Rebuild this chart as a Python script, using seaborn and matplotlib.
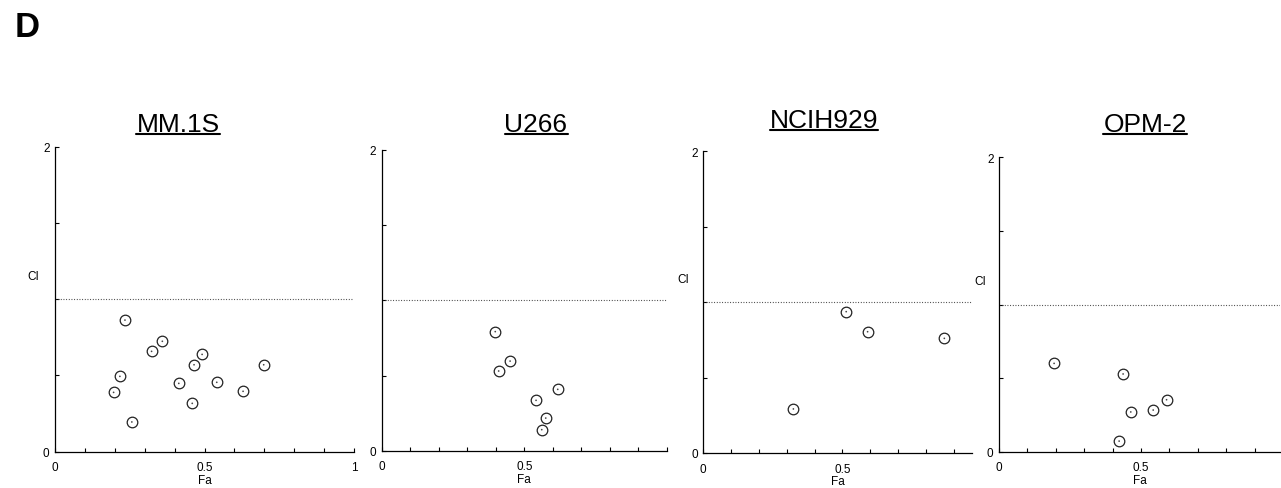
import numpy as np
import pandas as pd
import matplotlib
matplotlib.use("Agg")
import matplotlib.pyplot as plt
from matplotlib.lines import Line2D
import seaborn as sns

# Fa / CI values
lines = ["MM.1S", "U266", "NCIH929", "OPM-2"]

mm1s_fa = [0.234, 0.359, 0.323, 0.492, 0.465, 0.698, 0.217, 0.414, 0.541, 0.196, 0.629, 0.459, 0.257]
mm1s_ci = [0.863, 0.724, 0.658, 0.638, 0.570, 0.570, 0.494, 0.448, 0.455, 0.389, 0.396, 0.317, 0.195]

u266_fa = [0.398, 0.450, 0.410, 0.617, 0.541, 0.575, 0.561]
u266_ci = [0.792, 0.596, 0.530, 0.408, 0.335, 0.217, 0.140]

ncih929_fa = [0.514, 0.591, 0.867, 0.324]
ncih929_ci = [0.937, 0.804, 0.760, 0.292]

opm2_fa = [0.194, 0.437, 0.590, 0.543, 0.464, 0.423]
opm2_ci = [0.600, 0.528, 0.353, 0.283, 0.270, 0.072]

fa_sets = [mm1s_fa, u266_fa, ncih929_fa, opm2_fa]
ci_sets = [mm1s_ci, u266_ci, ncih929_ci, opm2_ci]

x_ticklabels = [["0", "0.5", "1"], ["0", "0.5"], ["0", "0.5"], ["0", "0.5"]]
show_ci = [True, False, True, True]

sns.set_style("ticks")
plt.rcParams["font.family"] = ["Liberation Sans", "DejaVu Sans"]
plt.rcParams["text.color"] = "black"
plt.rcParams["axes.labelcolor"] = "black"
narrow = ["Liberation Sans Narrow", "Liberation Sans", "DejaVu Sans"]

W, H = 1281, 489
fig = plt.figure(figsize=(W / 100, H / 100), dpi=100)

# axes boxes in pixels: left, y0, y2, px per unit, xmax
boxes = [
    (55, 452.7, 147.7, 299, 1.0),
    (381.7, 451.7, 151.0, 285.3, 1.0),
    (703.3, 454.0, 152.3, 278.0, 0.965),
    (999, 452.7, 158.3, 284.0, 0.99),
]
ci_pos = [(-0.074, 0.556), None, (-0.075, 0.557), (-0.067, 0.559)]
# title centre x and baseline y in pixels
title_pos = [(178, 132), (536, 132), (824, 128), (1145, 132)]

for i, name in enumerate(lines):
    left, y0, y2, ppu, xmax = boxes[i]
    ax = fig.add_axes([left / W, 1 - y0 / H, ppu * xmax / W, (y0 - y2) / H])
    df = pd.DataFrame({"Fa": fa_sets[i], "CI": ci_sets[i]})
    ax.axhline(1.0, color="#333333", linestyle=(0, (0.8, 1.6)), linewidth=0.8, zorder=1)
    sns.scatterplot(data=df, x="Fa", y="CI", ax=ax, marker="o", s=58,
                    facecolor="white", edgecolor="#222222", linewidth=0.9, zorder=3)
    sns.scatterplot(data=df, x="Fa", y="CI", ax=ax, marker="o", s=1.5,
                    color="#444444", edgecolor="none", zorder=4)
    ax.set_xlim(0, xmax)
    ax.set_ylim(0, 2)
    xt = np.round(np.arange(0, xmax + 0.001, 0.1), 2)
    ax.set_xticks(xt)
    labs = []
    for t in xt:
        k = int(round(t * 2))
        labs.append(x_ticklabels[i][k] if abs(t * 2 - k) < 1e-6 and k < len(x_ticklabels[i]) else "")
    ax.set_xticklabels(labs)
    ax.set_yticks([0, 0.5, 1, 1.5, 2])
    ax.set_yticklabels(["0", "", "", "", "2"])
    ax.tick_params(direction="in", length=3, width=0.8, colors="black")
    ax.tick_params(axis="x", pad=7)
    ax.tick_params(axis="y", pad=4)
    for lab in ax.get_xticklabels() + ax.get_yticklabels():
        lab.set_family(narrow)
        lab.set_fontsize(8.5)
    sns.despine(ax=ax)
    for sp in ("left", "bottom"):
        ax.spines[sp].set_linewidth(0.9)
        ax.spines[sp].set_color("black")
    ax.set_xlabel("Fa", family=narrow, fontsize=8.5, labelpad=0.5)
    if show_ci[i]:
        ax.set_ylabel("CI", family=narrow, fontsize=8.5, rotation=0)
        ax.yaxis.set_label_coords(*ci_pos[i])
    else:
        ax.set_ylabel("")

fig.canvas.draw()
renderer = fig.canvas.get_renderer()
for name, (cx, by) in zip(lines, title_pos):
    t = fig.text(cx / W, 1 - by / H, name, fontsize=19, ha="center", va="baseline", color="black")
    bb = t.get_window_extent(renderer)
    uy = 1 - (by + 3) / H
    fig.add_artist(Line2D([bb.x0 / W, bb.x1 / W], [uy, uy], color="black", linewidth=1.5))

fig.text(15 / W, 1 - 37 / H, "D", fontsize=25, fontweight="bold", ha="left", va="baseline", color="black")

fig.savefig("out.png", dpi=100)
